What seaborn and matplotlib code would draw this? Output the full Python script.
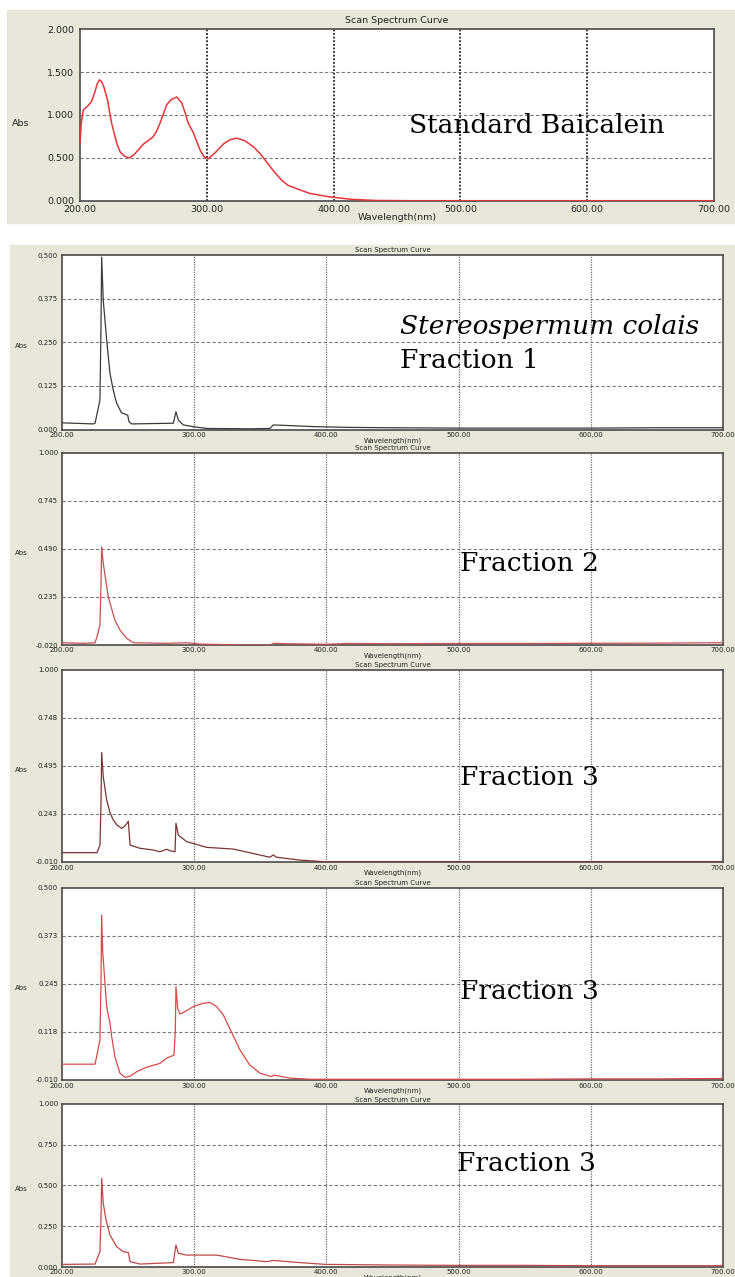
import matplotlib
matplotlib.use('Agg')
import matplotlib.pyplot as plt
import seaborn as sns
from matplotlib.patches import Rectangle

# --- Data ---
baicalein_nm = [200, 201, 202.6, 205.8, 209, 211.8, 213.5, 215.3, 217, 219, 221.7, 225, 229, 231.6,
                235, 239, 242, 244.7, 250, 257.3, 260, 263, 268.4, 272, 276.3, 280.3, 283, 285.5,
                289.5, 294.7, 298, 301.3, 306.6, 313, 318, 323.7, 330, 336.7, 342, 347.8, 353, 359,
                364, 370, 381, 395.8, 414, 433, 460, 500, 550, 600, 650, 700]
baicalein_abs = [0.67, 0.90, 1.06, 1.10, 1.155, 1.27, 1.36, 1.41, 1.39, 1.32, 1.175, 0.90, 0.67, 0.57,
                 0.52, 0.50, 0.53, 0.57, 0.66, 0.74, 0.80, 0.90, 1.12, 1.18, 1.21, 1.14, 1.02, 0.90,
                 0.79, 0.59, 0.51, 0.49, 0.56, 0.66, 0.71, 0.73, 0.70, 0.63, 0.55, 0.44, 0.34, 0.24,
                 0.18, 0.145, 0.086, 0.047, 0.016, 0.003, 0.0, 0.0, 0.0, 0.0, 0.0, 0.0]

f1_nm = [200, 208.5, 223.7, 225, 228.7, 229.5, 230, 231.2, 233.8, 236.3, 238.8, 240, 241.4, 245,
         249.7, 250.7, 252.7, 284.2, 286.2, 288, 291.8, 299.4, 309.5, 342, 357.3, 359.8, 367, 392.6,
         417.9, 450, 500, 550, 600, 650, 700]
f1_abs = [0.019, 0.018, 0.016, 0.018, 0.084, 0.30, 0.494, 0.37, 0.256, 0.16, 0.113, 0.094, 0.075, 0.048,
          0.041, 0.022, 0.016, 0.018, 0.051, 0.027, 0.013, 0.008, 0.003, 0.002, 0.003, 0.013, 0.012, 0.008,
          0.006, 0.005, 0.004, 0.004, 0.004, 0.005, 0.005]

f2_nm = [200, 216.4, 225, 226.5, 228.7, 229.5, 230, 231.2, 235, 240, 243.9, 249, 254, 279, 294.3,
         304.4, 339.7, 357.4, 360, 370, 400, 415, 450, 500, 550, 600, 650, 700]
f2_abs = [-0.008, -0.011, -0.008, 0.024, 0.086, 0.30, 0.501, 0.413, 0.236, 0.112, 0.059, 0.015, -0.008,
          -0.011, -0.008, -0.015, -0.020, -0.020, -0.011, -0.013, -0.016, -0.012, -0.013, -0.012,
          -0.012, -0.011, -0.010, -0.008]

f3a_nm = [200, 226.5, 228.7, 229.5, 230, 231.2, 233.8, 236.3, 238.5, 241.4, 245.2, 247.7, 250.2, 251.5,
          259, 269, 274, 279.2, 281.7, 285.5, 286.2, 288, 294.3, 309.5, 329.6, 357.3, 359.8, 362.3,
          380, 397.6, 450, 500, 550, 600, 650, 700]
f3a_abs = [0.039, 0.039, 0.079, 0.30, 0.565, 0.439, 0.316, 0.25, 0.215, 0.185, 0.167, 0.18, 0.204, 0.079,
           0.062, 0.053, 0.044, 0.057, 0.049, 0.044, 0.194, 0.132, 0.097, 0.067, 0.058, 0.015, 0.027,
           0.015, 0.0, -0.008, -0.008, -0.008, -0.008, -0.008, -0.008, -0.008]

f3b_nm = [200, 225, 228.7, 229.5, 230, 230.8, 233.8, 236.3, 237.6, 240, 243.9, 247.7, 251.4, 256.5,
          264, 274, 279.2, 284.7, 285.7, 286.2, 287.5, 289.3, 294.3, 299.3, 306.9, 312, 317, 322,
          328.4, 334.6, 342, 349.8, 358.6, 360.3, 372.4, 387.6, 412.7, 450, 500, 550, 600, 650, 700]
f3b_abs = [0.032, 0.032, 0.096, 0.25, 0.428, 0.33, 0.185, 0.14, 0.105, 0.052, 0.008, -0.003, 0.0, 0.012,
           0.024, 0.034, 0.048, 0.056, 0.12, 0.238, 0.18, 0.165, 0.174, 0.185, 0.194, 0.196, 0.185, 0.163,
           0.116, 0.07, 0.03, 0.008, -0.001, 0.003, -0.005, -0.008, -0.008, -0.008, -0.008, -0.008,
           -0.007, -0.007, -0.006]

f3c_nm = [200, 225, 228.7, 229.5, 230, 231.2, 233.3, 236.3, 241.4, 246.4, 250.2, 251.5, 259, 284.2,
          286.2, 288, 294.3, 317, 334.6, 354.8, 359.8, 380, 399, 450, 500, 550, 600, 650, 700]
f3c_abs = [0.016, 0.018, 0.094, 0.30, 0.543, 0.39, 0.288, 0.196, 0.124, 0.094, 0.088, 0.033, 0.018, 0.027,
           0.135, 0.084, 0.073, 0.073, 0.047, 0.033, 0.04, 0.027, 0.016, 0.012, 0.01, 0.01, 0.008,
           0.008, 0.008]

x_ticks = [200, 300, 400, 500, 600, 700]
top_yticks = [0.0, 0.5, 1.0, 1.5, 2.0]
f1_yticks = [0.000, 0.125, 0.250, 0.375, 0.500]
f2_yticks = [-0.020, 0.235, 0.490, 0.745, 1.000]
f3a_yticks = [-0.010, 0.243, 0.495, 0.748, 1.000]
f3b_yticks = [-0.010, 0.118, 0.245, 0.373, 0.500]
f3c_yticks = [0.000, 0.250, 0.500, 0.750, 1.000]

# --- Figure setup ---
W, H = 735, 1277
sns.set_style('white')
plt.rcParams['font.family'] = ['DejaVu Sans']
fig = plt.figure(figsize=(W / 100, H / 100), dpi=100)
fig.patch.set_facecolor('white')

BEIGE = '#e9e7da'


def fx(px):
    return px / W


def fy(py):
    return 1 - py / H


def box(x0, y0, x1, y1):
    return [fx(x0), fy(y1), fx(x1) - fx(x0), fy(y0) - fy(y1)]


# beige window backgrounds (behind the axes)
fig.patches.append(Rectangle((fx(7), fy(223)), fx(735) - fx(7), fy(10) - fy(223),
                             transform=fig.transFigure, color=BEIGE, zorder=-5))
fig.patches.append(Rectangle((fx(10), fy(1277)), fx(735) - fx(10), fy(245) - fy(1277),
                             transform=fig.transFigure, color=BEIGE, zorder=-5))


def spectrum(pos, nm, ab, yticks, color, lw, big, title_y, xlab_y, abs_y, vgrid_col, vgrid_lw,
             tick_fs, title_fs, ypad, xpad):
    ax = fig.add_axes(box(*pos))
    ax.set_facecolor('white')
    sns.lineplot(x=nm, y=ab, ax=ax, color=color, linewidth=lw, estimator=None, sort=False, zorder=5)
    ax.set_xlim(200, 700)
    ax.set_ylim(yticks[0], yticks[-1])
    ax.set_xticks(x_ticks)
    ax.set_xticklabels([f'{t:.2f}' for t in x_ticks])
    ax.set_yticks(yticks)
    ax.set_yticklabels([f'{t:.3f}' for t in yticks])
    ax.tick_params(length=0, labelsize=tick_fs, colors='#222222')
    ax.tick_params(axis='y', pad=ypad)
    ax.tick_params(axis='x', pad=xpad)
    for t in yticks[1:-1]:
        ax.axhline(t, color='#7a7a7a', lw=0.8, ls=(0, (3, 2)), zorder=1)
    for t in x_ticks[1:-1]:
        ax.axvline(t, color=vgrid_col, lw=vgrid_lw, ls=(0, (1, 1)), zorder=1)
    for s in ax.spines.values():
        s.set_color('#4a4a4a')
        s.set_linewidth(1.2)
        s.set_visible(True)
    ax.set_xlabel('')
    ax.set_ylabel('')
    cx = (pos[0] + pos[2]) / 2
    fig.text(fx(cx), fy(title_y), 'Scan Spectrum Curve', ha='center', va='center',
             fontsize=title_fs, color='#222222')
    fig.text(fx(cx), fy(xlab_y), 'Wavelength(nm)', ha='center', va='center',
             fontsize=title_fs, color='#222222')
    fig.text(fx(21), fy(abs_y), 'Abs', ha='center', va='center', fontsize=title_fs, color='#222222')
    for txt, px, py, style in big:
        fig.text(fx(px), fy(py), txt, ha='left', va='baseline', fontsize=19,
                 family='DejaVu Serif', style=style, color='black')
    return ax


# top panel: standard
spectrum((80, 29.3, 714, 200.7), baicalein_nm, baicalein_abs, top_yticks, '#e8343a', 1.1,
         [('Standard Baicalein', 409, 133, 'normal')],
         20.5, 218, 124, '#202020', 1.3, 6.8, 6.8, 4.3, 3.2)

lower = [
    ((62, 255, 723, 429.5), f1_nm, f1_abs, f1_yticks, '#3a3a3a',
     [('Stereospermum colais', 400, 334, 'italic'), ('Fraction 1', 400, 368, 'normal')], 250),
    ((62, 452.7, 723, 645), f2_nm, f2_abs, f2_yticks, '#c85050',
     [('Fraction 2', 460, 571, 'normal')], 448),
    ((62, 670, 723, 862), f3a_nm, f3a_abs, f3a_yticks, '#7a3434',
     [('Fraction 3', 460, 785, 'normal')], 665),
    ((62, 888, 723, 1080), f3b_nm, f3b_abs, f3b_yticks, '#d84848',
     [('Fraction 3', 460, 999, 'normal')], 883),
    ((62, 1103.7, 723, 1267), f3c_nm, f3c_abs, f3c_yticks, '#c04848',
     [('Fraction 3', 457, 1171, 'normal')], 1100),
]

for pos, nm, ab, yt, col, big, ty in lower:
    mid = (pos[1] + pos[3]) / 2 + 4
    spectrum(pos, nm, ab, yt, col, 0.9, big, ty, pos[3] + 11, mid, '#6a6a6a', 0.9, 5, 5, 2.9, 1.8)

fig.savefig('out.png', dpi=100, facecolor=fig.get_facecolor())
